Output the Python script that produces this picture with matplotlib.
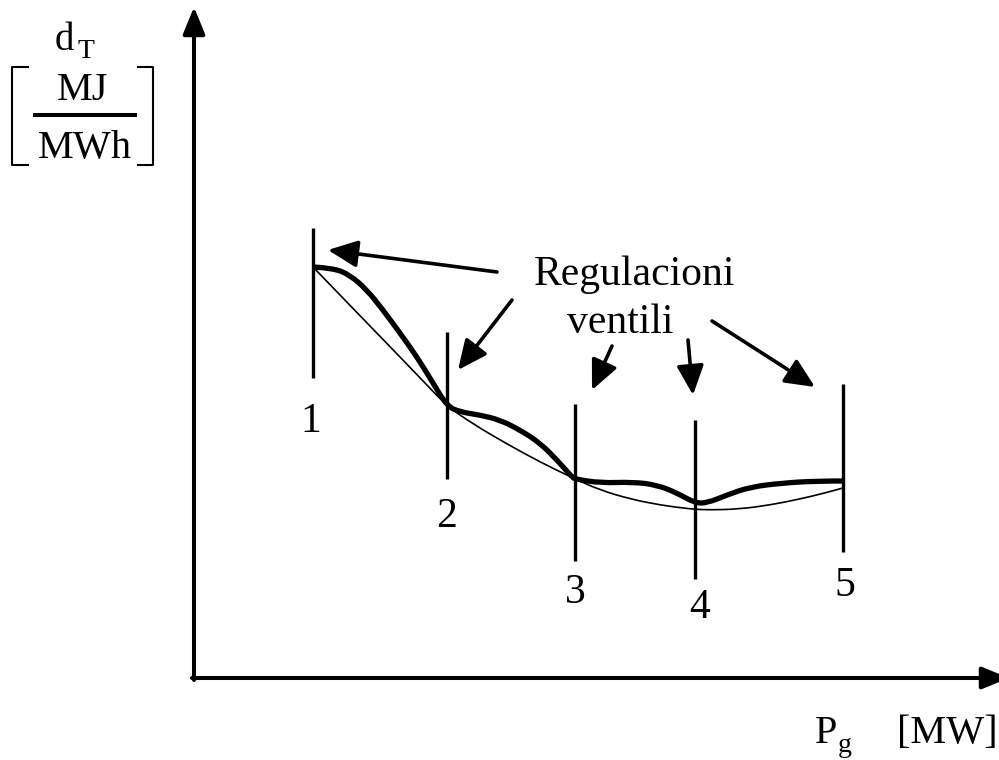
import matplotlib
matplotlib.use("Agg")
import matplotlib.pyplot as plt
from matplotlib.path import Path
from matplotlib.patches import PathPatch

plt.rcParams['font.family'] = ['Liberation Serif', 'DejaVu Serif']

# ---- data (P along x, d_T along y; schematic units) ----
thin_P = [119, 146, 176, 206, 231, 253, 279, 313, 346, 381, 406, 436, 466,
          496, 516, 546, 576, 606, 631, 649]
thin_D = [411, 383, 352, 321, 295, 272, 254, 234, 216, 199, 188, 179, 173,
          169, 168, 169, 173, 179, 185, 190]

thick_P = [119, 139, 156, 173, 189, 206, 223, 239, 253, 266, 286, 306, 326,
           346, 363, 378, 381, 406, 439, 463, 483, 501, 513, 533, 556, 589,
           623, 649]
thick_D = [411, 410, 403, 388, 368, 345, 321, 295, 272, 266, 263, 258, 248,
           235, 218, 201, 199, 195, 196, 193, 185, 175, 175, 183, 191, 195,
           197, 197]

valve_labels = ['1', '2', '3', '4', '5']
valve_P = [119, 253, 381, 501, 649]
valve_low = [300, 199, 117, 99, 126]
valve_high = [450, 346, 274, 258, 294]


def smooth_path(xs, ys):
    """Quadratic B-spline path using the data points as control points."""
    pts = list(zip(xs, ys))
    verts = [pts[0]]
    codes = [Path.MOVETO]
    n = len(pts)
    for i in range(1, n - 2):
        mid = ((pts[i][0] + pts[i + 1][0]) / 2, (pts[i][1] + pts[i + 1][1]) / 2)
        verts += [pts[i], mid]
        codes += [Path.CURVE3, Path.CURVE3]
    verts += [pts[n - 2], pts[n - 1]]
    codes += [Path.CURVE3, Path.CURVE3]
    return Path(verts, codes)


# ---- layout ----
fig = plt.figure(figsize=(9.99, 7.60), dpi=100)
ax = fig.add_axes([0, 0, 1, 1])
ax.set_xlim(-194, 805)
ax.set_ylim(-82, 678)
ax.axis('off')

k = 'black'
# axes with arrows
ax.annotate('', xy=(0, 671), xytext=(0, -2),
            arrowprops=dict(arrowstyle='-|>,head_length=1.1,head_width=0.45',
                            mutation_scale=15, lw=2.9, color=k,
                            shrinkA=0, shrinkB=0), annotation_clip=False)
ax.annotate('', xy=(815, 0), xytext=(-2, 0),
            arrowprops=dict(arrowstyle='-|>,head_length=1.1,head_width=0.45',
                            mutation_scale=15, lw=2.9, color=k,
                            shrinkA=0, shrinkB=0), annotation_clip=False)

# curves
ax.add_patch(PathPatch(smooth_path(thin_P, thin_D), fill=False,
                       edgecolor=k, lw=1.2, transform=ax.transData))
ax.add_patch(PathPatch(smooth_path(thick_P, thick_D), fill=False,
                       edgecolor=k, lw=3.8, joinstyle='round', capstyle='butt',
                       transform=ax.transData))

# valve markers
ax.vlines(valve_P, valve_low, valve_high, color=k, lw=2.4)

label_P = [117, 253, 381, 506, 651]
label_D = [246, 151, 75, 60, 82]
for s, x, y in zip(valve_labels, label_P, label_D):
    ax.text(x, y, s, fontsize=30, ha='center', va='baseline')

# annotation text
ax.text(440, 393, 'Regulacioni', fontsize=30, ha='center', va='baseline')
ax.text(426, 345, 'ventili', fontsize=30, ha='center', va='baseline')

tails = [(303, 406), (318, 378), (418, 332), (494, 338), (518, 357)]
tips = [(134, 428), (264, 308), (398, 288), (499, 283), (621, 291)]
for t, h in zip(tails, tips):
    ax.annotate('', xy=h, xytext=t,
                arrowprops=dict(arrowstyle='-|>,head_length=1.2,head_width=0.55',
                                mutation_scale=15, lw=2.6, color=k,
                                shrinkA=0, shrinkB=0))

# y-axis label
ax.text(-139, 628, 'd', fontsize=28, ha='left', va='baseline')
ax.text(-116, 620, 'T', fontsize=20, ha='left', va='baseline')
ax.text(-111, 578, 'MJ', fontsize=29, ha='center', va='baseline')
ax.plot([-161, -57], [563, 563], color=k, lw=2.9, solid_capstyle='butt')
ax.text(-109, 520, 'MWh', fontsize=29, ha='center', va='baseline')
ax.plot([-166, -182, -182, -166], [611, 611, 513, 513], color=k, lw=1.5)
ax.plot([-56, -41, -41, -56], [611, 611, 513, 513], color=k, lw=1.5)

# x-axis label
ax.text(621, -65, 'P', fontsize=29, ha='left', va='baseline')
ax.text(644, -74, 'g', fontsize=20, ha='left', va='baseline')
ax.text(703, -65, '[MW]', fontsize=29, ha='left', va='baseline')

fig.savefig('out.png', dpi=100)
